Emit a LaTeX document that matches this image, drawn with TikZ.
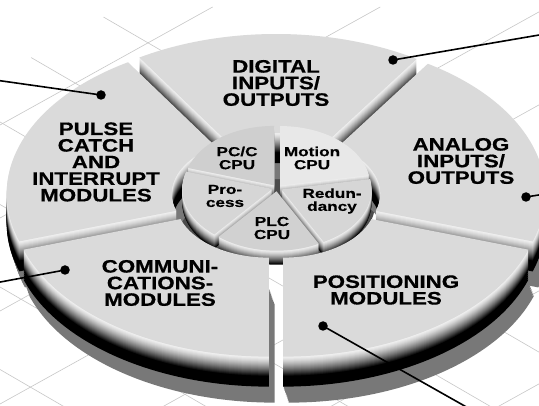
\documentclass[tikz,border=0pt]{standalone}
\usepackage{fontspec}
\newfontfamily\labfont[FakeStretch=1.24,FakeBold=0.6]{Liberation Sans}
\newfontfamily\labfontB[FakeStretch=1.32,FakeBold=0.5]{Liberation Sans}
\definecolor{gridc}{gray}{0.78}
\definecolor{shadowc}{gray}{0.47}
% ring geometry (y up, 1 unit = 1pt = 1px)
\def\RCX{276}\def\RCY{209}\def\RSY{0.6}\def\RO{258}\def\RI{93}\def\RD{12}
% pie geometry
\def\PCX{277}\def\PCY{217}\def\PSY{0.66}\def\PR{90}\def\PD{5}
\newcommand\ringpath[2]{({\RCX+\RO*cos(#1)},{\RCY+\RSY*\RO*sin(#1)}) arc[start angle=#1,end angle=#2,x radius=\RO,y radius={\RSY*\RO}] -- ({\RCX+\RI*cos(#2)},{\RCY+\RSY*\RI*sin(#2)}) arc[start angle=#2,end angle=#1,x radius=\RI,y radius={\RSY*\RI}] -- cycle}
\newcommand\piepath[2]{(\PCX,\PCY) -- ({\PCX+\PR*cos(#1)},{\PCY+\PSY*\PR*sin(#1)}) arc[start angle=#1,end angle=#2,x radius=\PR,y radius={\PSY*\PR}] -- cycle}
\newcommand\ringseg[3]{%
  \pgfmathsetmacro\rsm{(#1+#2)/2}%
  \pgfmathsetmacro\rsdx{\RD*cos(\rsm)}%
  \pgfmathsetmacro\rsdy{\RSY*\RD*sin(\rsm)}%
  \begin{scope}[shift={(\rsdx,\rsdy)}]
    \foreach \k in {46,44,...,30} {\fill[shadowc,shift={({0.35*(\k-30)},-\k)}] \ringpath{#1}{#2};}
    \foreach \k in {30,28,...,20} {\fill[black,shift={(0,-\k)}] \ringpath{#1}{#2};}
    \foreach \k in {20,19,...,1} {\pgfmathsetmacro\sg{max(0,0.95*(1-(\k/20)^1.4))}\definecolor{sidec}{gray}{\sg}\fill[sidec,shift={(0,-\k)}] \ringpath{#1}{#2};}
    \definecolor{topc}{gray}{#3}
    \fill[topc] \ringpath{#1}{#2};
  \end{scope}}
\newcommand\pieseg[3]{%
  \pgfmathsetmacro\psm{(#1+#2)/2}%
  \pgfmathsetmacro\psdx{\PD*cos(\psm)}%
  \pgfmathsetmacro\psdy{\PSY*\PD*sin(\psm)}%
  \begin{scope}[shift={(\psdx,\psdy)}]
    \foreach \k in {14,13,...,1} {\pgfmathsetmacro\sg{max(0,0.95*(1-(\k/14)^1.4))}\definecolor{sidec}{gray}{\sg}\fill[sidec,shift={(0,-\k)}] \piepath{#1}{#2};}
    \definecolor{topc}{gray}{#3}
    \fill[topc] \piepath{#1}{#2};
  \end{scope}}
\tikzset{
  gridline/.style={draw=gridc, line width=0.6pt},
  outlbl/.style={font=\labfont\bfseries\fontsize{18}{16.6}\selectfont, align=center, inner sep=0pt},
  inlbl/.style={font=\labfontB\bfseries\fontsize{13}{13}\selectfont, align=center, inner sep=0pt},
  leader/.style={line width=1.6pt, black},
  ldot/.style={circle, fill=black, inner sep=0pt, minimum size=9.5pt}
}
\begin{document}
\begin{tikzpicture}[x=1pt,y=1pt]
\useasboundingbox (0,0) rectangle (539,405);
\clip (0,0) rectangle (539,405);
\fill[white] (0,0) rectangle (539,405);
% background floor grid
\foreach \b in {-43,39.5,122,204.5,287,369.5} {
  \pgfmathsetmacro\xs{(75-\b)/1.14}
  \draw[gridline] ({\xs},{405-(0.58*\xs+\b)}) -- (560,{405-(0.58*560+\b)});
}
\foreach \b in {125,218,311,404,497,590,683} {
  \pgfmathsetmacro\xe{(\b-7)/0.555}
  \draw[gridline] (-10,{405-(\b+5.55)}) -- ({\xe},398);
}
% hub floor
\fill[gray!60!black] (\RCX,\RCY-8) ellipse[x radius=\RI+6, y radius={\RSY*(\RI+6)}];
% outer ring, back to front
\ringseg{57}{122}{0.855}
\ringseg{122}{198}{0.855}
\ringseg{342}{417}{0.855}
% inner pie
\pieseg{90}{163}{0.81}
\pieseg{10}{90}{0.91}
\pieseg{163}{230}{0.84}
\pieseg{298}{370}{0.84}
\pieseg{230}{298}{0.82}
% front ring segments
\ringseg{198}{270}{0.855}
\ringseg{270}{342}{0.855}
% labels
\node[outlbl] (dig) at (276,322) {DIGITAL\\INPUTS/\\OUTPUTS};
\node[outlbl] (pul) at (96,243) {PULSE\\CATCH\\AND\\INTERRUPT\\MODULES};
\node[outlbl] (ana) at (461,244) {ANALOG\\INPUTS/\\OUTPUTS};
\node[outlbl] (com) at (160,122) {COMMUNI-\\CATIONS-\\MODULES};
\node[outlbl] (pos) at (386,115) {POSITIONING\\MODULES};
\node[inlbl] (pcc) at (237,247) {PC/C\\CPU};
\node[inlbl] (mot) at (312,247) {Motion\\CPU};
\node[inlbl] (pro) at (225,209) {Pro-\\cess};
\node[inlbl] (red) at (332,204) {Redun-\\dancy};
\node[inlbl] (plc) at (272,177) {PLC\\CPU};
% leader lines
\node[ldot] (d1) at (101,310) {};
\node[ldot] (d2) at (393,345) {};
\node[ldot] (d3) at (526,208) {};
\node[ldot] (d4) at (65,135) {};
\node[ldot] (d5) at (323,79) {};
\coordinate (e1) at (-5,325);
\coordinate (e2) at (545,371);
\coordinate (e3) at (545,211);
\coordinate (e4) at (-5,122);
\coordinate (e5) at (470,-4);
\draw[leader] (d1.center) -- (e1);
\draw[leader] (d2.center) -- (e2);
\draw[leader] (d3.center) -- (e3);
\draw[leader] (d4.center) -- (e4);
\draw[leader] (d5.center) -- (e5);
\end{tikzpicture}
\end{document}
